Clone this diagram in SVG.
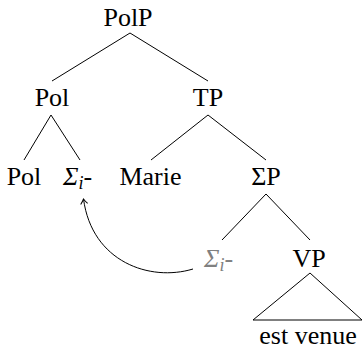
<svg xmlns="http://www.w3.org/2000/svg" width="362" height="348" viewBox="0 0 362 348">
<style>
.e{stroke:#000;stroke-width:1;fill:none}
</style>
<defs>
<marker id="ah" markerWidth="10" markerHeight="10" refX="0" refY="0" viewBox="-6 -5 8 10" orient="auto" markerUnits="userSpaceOnUse">
<path d="M-5,-3.5 Q-2,-1 0,0 Q-2,1 -5,3.5" fill="none" stroke="#000" stroke-width="1"/>
</marker>
</defs>
<g id="connectors">
<path class="e" d="M130,33 L52,81 M130,33 L208,81"/>
<path class="e" d="M51,115 L24,160 M51,115 L80,160"/>
<path class="e" d="M208,115 L151,160 M208,115 L266,160"/>
<path class="e" d="M266,194 L222,240 M266,194 L310,240"/>
<path class="e" d="M310,273 L253,320 L362,320 Z"/>
<path class="e" d="M193,269 C150,282 92,262 83.5,199" marker-end="url(#ah)"/>
</g>
<g id="PolP"><text x="128" y="26" font-family="Liberation Serif" font-size="26" text-anchor="middle">PolP</text></g>
<g id="Pol1"><text x="52" y="106" font-family="Liberation Serif" font-size="26" text-anchor="middle">Pol</text></g>
<g id="TP"><text x="208" y="106" font-family="Liberation Serif" font-size="26" text-anchor="middle">TP</text></g>
<g id="Pol2"><text x="24" y="185" font-family="Liberation Serif" font-size="26" text-anchor="middle">Pol</text></g>
<g id="Sigma1"><text x="63" y="185" font-family="Liberation Serif" font-size="26"><tspan font-style="italic">Σ</tspan><tspan font-style="italic" font-size="18" dy="4">i</tspan><tspan dy="-4">-</tspan></text></g>
<g id="Marie"><text x="150.5" y="185" font-family="Liberation Serif" font-size="26" text-anchor="middle">Marie</text></g>
<g id="SigmaP"><text x="266" y="185" font-family="Liberation Serif" font-size="26" text-anchor="middle">ΣP</text></g>
<g id="Sigma2"><text x="204" y="267" font-family="Liberation Serif" font-size="26" fill="#808080"><tspan font-style="italic">Σ</tspan><tspan font-style="italic" font-size="18" dy="4">i</tspan><tspan dy="-4">-</tspan></text></g>
<g id="VP"><text x="309" y="267" font-family="Liberation Serif" font-size="26" text-anchor="middle">VP</text></g>
<g id="estvenue"><text x="308" y="344" font-family="Liberation Serif" font-size="26" text-anchor="middle">est venue</text></g>
</svg>
